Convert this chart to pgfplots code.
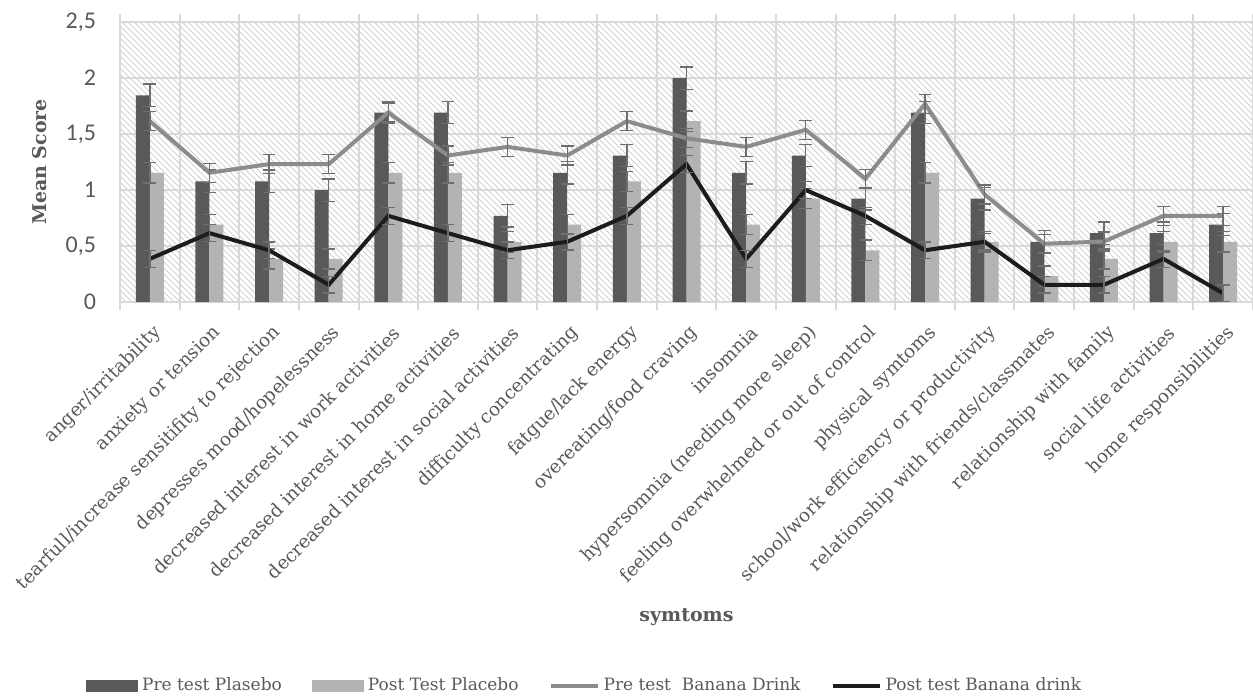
\documentclass[border=0pt]{standalone}
\usepackage{pgfplots}
\pgfplotsset{compat=1.18}
\usepackage{pgfplotstable}
\usepackage{fontspec}
\setmainfont{DejaVu Serif}
\newfontfamily\carlito{Carlito}
\usetikzlibrary{patterns}
\definecolor{darkbar}{HTML}{595959}
\definecolor{lightbar}{HTML}{B3B3B3}
\definecolor{preB}{HTML}{8C8C8C}
\definecolor{postB}{HTML}{1C1C1C}
\definecolor{gridc}{HTML}{D9D9D9}
\definecolor{txt}{HTML}{595959}
\definecolor{errc}{HTML}{6E6E6E}

\pgfplotstableread{
x pre post preB postB
0  1.846 1.154 1.615 0.385
1  1.077 0.692 1.154 0.615
2  1.077 0.385 1.231 0.462
3  1.000 0.385 1.231 0.154
4  1.692 1.154 1.692 0.769
5  1.692 1.154 1.308 0.615
6  0.769 0.538 1.385 0.462
7  1.154 0.692 1.308 0.538
8  1.308 1.077 1.615 0.769
9  2.000 1.615 1.462 1.231
10 1.154 0.692 1.385 0.385
11 1.308 0.923 1.538 1.000
12 0.923 0.462 1.100 0.769
13 1.692 1.154 1.769 0.462
14 0.923 0.538 0.960 0.538
15 0.538 0.231 0.520 0.154
16 0.615 0.385 0.540 0.154
17 0.615 0.538 0.769 0.385
18 0.692 0.538 0.769 0.077
}\data

\begin{document}
\begin{tikzpicture}
\begin{axis}[
  at={(60pt,198pt)}, anchor=south west,
  scale only axis, width=566.5pt, height=140pt,
  xmin=-0.5, xmax=18.5, ymin=0, ymax=2.5,
  axis background/.style={pattern=north west lines, pattern color=black!18},
  axis line style={draw=gridc, line width=1pt},
  ytick={0,0.5,1,1.5,2,2.5},
  yticklabels={0,{0,5},1,{1,5},2,{2,5}},
  yticklabel style={font=\carlito\fontsize{12}{14}\selectfont, text=txt, xshift=-8.5pt},
  ymajorgrids, major grid style={draw=gridc, line width=1pt},
  xtick={0,...,18},
  xticklabels={anger/irritability, anxiety or tension, tearfull/increase sensitifity to rejection, depresses mood/hopelessness, decreased interest in work activities, decreased interest in home activities, decreased interest in social activities, difficulty concentrating, fatgue/lack energy, overeating/food craving, insomnia, hypersomnia (needing more sleep), feeling overwhelmed or out of control, physical symtoms, school/work efficiency or productivity, relationship with friends/classmates, relationship with family, social life activities, home responsibilities},
  xticklabel style={font=\fontsize{9.2}{11}\selectfont, text=txt, anchor=east, xshift=6.6pt, yshift=-11.4pt, rotate=45},
  minor xtick={-0.5,0.5,...,18.5},
  xminorgrids, minor grid style={draw=gridc, line width=1pt},
  major tick length=0pt, minor tick length=4pt, xtick align=outside,
  minor x tick style={draw=gridc, line width=1pt},
  ylabel={Mean Score},
  ylabel style={font=\bfseries\fontsize{9.5}{11}\selectfont, text=txt, at={(axis description cs:-0.0706,0.5)}, anchor=center},
  xlabel={symtoms},
  xlabel style={font=\bfseries\fontsize{9.5}{11}\selectfont, text=txt, at={(axis description cs:0.5,-1.125)}, anchor=center},
  legend columns=4,
  legend style={at={(axis description cs:0.411,-1.371)}, anchor=center, draw=none, fill=none, inner sep=0pt,
    font=\fontsize{8.5}{10}\selectfont, text=txt,
    /tikz/every even column/.append style={column sep=13pt}},
  legend cell align=left,
  clip=false,
]
\addplot[ybar, bar width=7pt, bar shift=-3.5pt, fill=darkbar, draw=none,
  legend image code/.code={\fill[darkbar] (0pt,-3pt) rectangle (26pt,3pt);},
  error bars/.cd, y dir=both, y fixed=0.1,
  error bar style={draw=errc, line width=0.7pt},
  error mark options={rotate=90, mark size=3.2pt, draw=errc, line width=0.7pt}]
  table[x=x, y=pre] {\data};
\addlegendentry{Pre test Plasebo}
\addplot[ybar, bar width=7pt, bar shift=3.5pt, fill=lightbar, draw=none,
  legend image code/.code={\fill[lightbar] (0pt,-3pt) rectangle (26pt,3pt);},
  error bars/.cd, y dir=both, y fixed=0.09,
  error bar style={draw=errc, line width=0.7pt},
  error mark options={rotate=90, mark size=3.2pt, draw=errc, line width=0.7pt}]
  table[x=x, y=post] {\data};
\addlegendentry{Post Test Placebo}
\addplot[sharp plot, draw=preB, line width=2pt, mark=none,
  legend image code/.code={\draw[preB, line width=2pt] (0pt,0pt) -- (23.5pt,0pt);},
  error bars/.cd, y dir=both, y fixed=0.085,
  error bar style={draw=errc, line width=0.7pt},
  error mark options={rotate=90, mark size=3.2pt, draw=errc, line width=0.7pt}]
  table[x=x, y=preB] {\data};
\addlegendentry{Pre test\ \ Banana Drink}
\addplot[sharp plot, draw=postB, line width=2pt, mark=none,
  legend image code/.code={\draw[postB, line width=2pt] (0pt,0pt) -- (23.5pt,0pt);},
  error bars/.cd, y dir=both, y fixed=0.075,
  error bar style={draw=errc, line width=0.7pt},
  error mark options={rotate=90, mark size=3.2pt, draw=errc, line width=0.7pt}]
  table[x=x, y=postB] {\data};
\addlegendentry{Post test Banana drink}
\end{axis}
\pgfresetboundingbox
\useasboundingbox (0,0) rectangle (626.5pt,349pt);
\end{tikzpicture}
\end{document}
